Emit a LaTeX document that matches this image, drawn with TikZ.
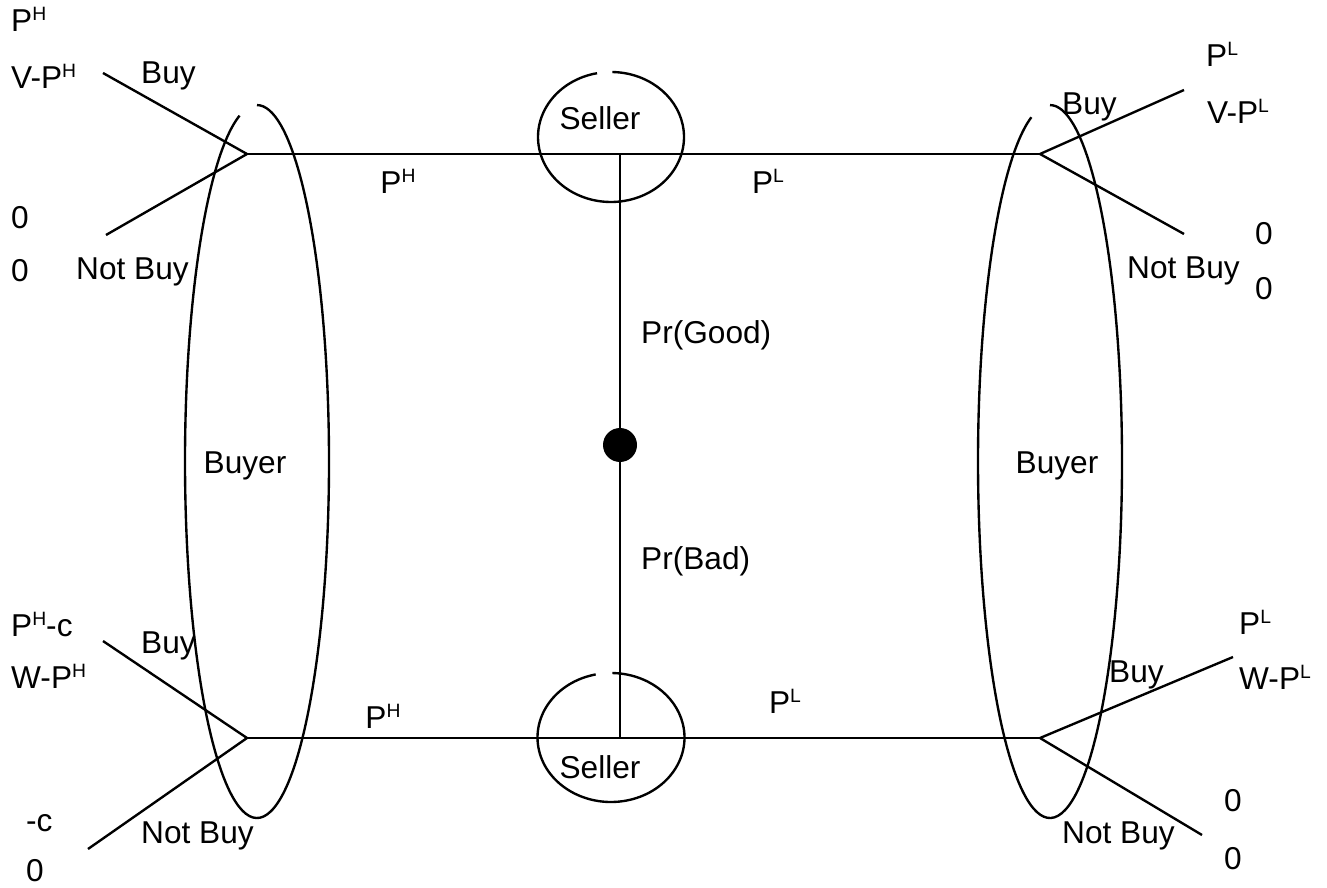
\documentclass[tikz,border=0pt]{standalone}
\usepackage{fontspec}
\setmainfont{Liberation Sans}
\newcommand{\up}[1]{\raisebox{6pt}{\fontsize{11}{11}\selectfont #1}}

\begin{document}
\begin{tikzpicture}[x=0.02cm,y=-0.02cm,line width=1.35pt,
	lbl/.style={inner sep=0pt,text height=13pt,text depth=0pt,font=\fontsize{18}{20}\selectfont},
	lw/.style={lbl,anchor=west}]
\useasboundingbox (0,0) rectangle (1327,888);

% decision points
\coordinate (tl) at (247,154);
\coordinate (tr) at (1040,154);
\coordinate (bl) at (247,738);
\coordinate (br) at (1040,738);
\coordinate (st) at (620,154);
\coordinate (sb) at (620,738);
\coordinate (tlb) at (103,73);
\coordinate (tln) at (106,235);
\coordinate (trb) at (1184,90);
\coordinate (trn) at (1184,234);
\coordinate (blb) at (103,641);
\coordinate (bln) at (88,849);
\coordinate (brb) at (1233,657);
\coordinate (brn) at (1202,835);

\draw (tl) -- (tr);
\draw (bl) -- (br);
\draw (st) -- (sb);
\foreach \a/\b in {tl/tlb,tl/tln,tr/trb,tr/trn,bl/blb,bl/bln,br/brb,br/brn}{
	\draw (\a) -- (\b);
	}
\node[circle,fill,inner sep=0pt,minimum size=0.68cm] (nature) at (620,445) {};

% information sets
\draw (611,137) ++(101:1.46cm and 1.3cm) arc[start angle=101,end angle=449,x radius=1.46cm,y radius=1.3cm];
\draw (611,737.5) ++(102:1.47cm and 1.29cm) arc[start angle=102,end angle=449,x radius=1.47cm,y radius=1.29cm];
\draw (257,461.5) ++(104:1.44cm and 7.13cm) arc[start angle=104,end angle=450,x radius=1.44cm,y radius=7.13cm];
\draw (1050,461.5) ++(105:1.44cm and 7.13cm) arc[start angle=105,end angle=450,x radius=1.44cm,y radius=7.13cm];

\node[lbl] (sellertop) at (600,118) {Seller};
\node[lbl] (sellerbot) at (600,767) {Seller};
\node[lbl] (buyerl) at (245,462) {Buyer};
\node[lbl] (buyerr) at (1057,462) {Buyer};
\node[lw] (good) at (640,332) {Pr(Good)};
\node[lw] (bad) at (640,558) {Pr(Bad)};
\node[lbl] (phtop) at (398,182) {P\up{H}};
\node[lbl] (pltop) at (768,182) {P\up{L}};
\node[lbl] (phbot) at (383,717) {P\up{H}};
\node[lbl] (plbot) at (785,702) {P\up{L}};

% top left payoffs
\node[lw] (tlp1) at (10,20) {P\up{H}};
\node[lw] (tlp2) at (10,77) {V-P\up{H}};
\node[lw] (tlbuy) at (140,72) {Buy};
\node[lw] (tlz1) at (10,217) {0};
\node[lw] (tlz2) at (10,270) {0};
\node[lw] (tlnot) at (75,268) {Not Buy};

% top right payoffs
\node[lw] (trp1) at (1205,55) {P\up{L}};
\node[lw] (trp2) at (1206,112) {V-P\up{L}};
\node[lw] (trbuy) at (1061,103) {Buy};
\node[lw] (trnot) at (1126,267) {Not Buy};
\node[lw] (trz1) at (1254,233) {0};
\node[lw] (trz2) at (1254,288) {0};

% bottom left payoffs
\node[lw] (blp1) at (10,625) {P\up{H}-c};
\node[lw] (blp2) at (10,677) {W-P\up{H}};
\node[lw] (blbuy) at (140,642) {Buy};
\node[lw] (blz1) at (25,820) {-c};
\node[lw] (blz2) at (25,870) {0};
\node[lw] (blnot) at (140,832) {Not Buy};

% bottom right payoffs
\node[lw] (brp1) at (1238,623) {P\up{L}};
\node[lw] (brp2) at (1238,678) {W-P\up{L}};
\node[lw] (brbuy) at (1108,671) {Buy};
\node[lw] (brnot) at (1061,832) {Not Buy};
\node[lw] (brz1) at (1223,800) {0};
\node[lw] (brz2) at (1223,858) {0};
\end{tikzpicture}
\end{document}
